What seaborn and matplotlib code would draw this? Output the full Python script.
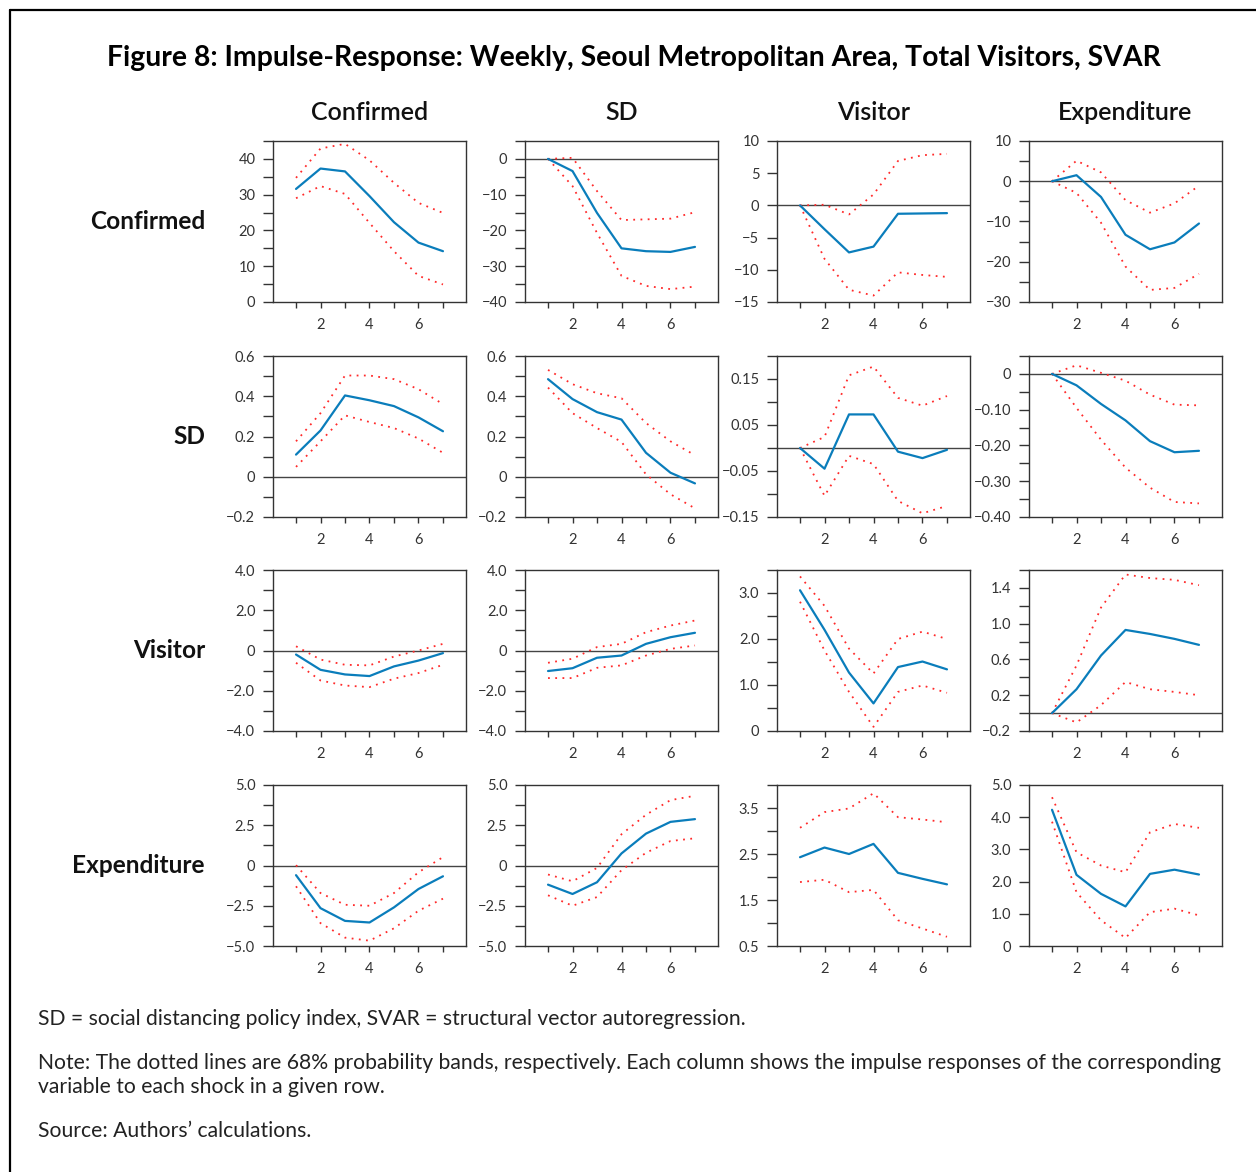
"""
Figure 8 — weekly SVAR impulse responses, Seoul metropolitan area.

Run: python plot.py  -> out.png
"""
import matplotlib.pyplot as plt
from matplotlib.lines import Line2D
import numpy as np
import seaborn as sns

W, H = 1256, 1172
STEPS = [1, 2, 3, 4, 5, 6, 7]
VARIABLES = ["Confirmed", "SD", "Visitor", "Expenditure"]

# rows = shock, columns = response (Confirmed, SD, Visitor, Expenditure)
IRF_CONFIRMED = [
    [31.6, 37.3, 36.5, 29.6, 22.3, 16.6, 14.2],
    [0, -3.4, -15.1, -25.0, -25.8, -26.0, -24.6],
    [0, -3.7, -7.3, -6.4, -1.3, -1.25, -1.2],
    [0, 1.5, -3.9, -13.3, -16.9, -15.2, -10.5],
]
UP_CONFIRMED = [
    [34.7, 42.9, 44.2, 39.6, 33.3, 27.7, 24.9],
    [0, 0.3, -9.0, -17.1, -16.9, -16.7, -14.9],
    [0, 0.1, -1.4, 1.7, 6.9, 7.8, 8.0],
    [0, 5.1, 2.2, -4.7, -7.8, -5.5, -1.1],
]
LO_CONFIRMED = [
    [29.0, 32.4, 30.2, 22.1, 14.2, 7.3, 4.9],
    [0, -7.6, -20.7, -32.7, -35.5, -36.4, -35.7],
    [0, -8.3, -13.1, -14.0, -10.4, -10.8, -11.1],
    [0, -2.9, -10.3, -21.2, -27.0, -26.5, -23.0],
]

IRF_SD = [
    [0.11, 0.23, 0.404, 0.38, 0.351, 0.295, 0.226],
    [0.485, 0.386, 0.321, 0.284, 0.119, 0.02, -0.033],
    [0, -0.045, 0.073, 0.073, -0.008, -0.022, -0.004],
    [0, -0.032, -0.084, -0.130, -0.188, -0.219, -0.215],
]
UP_SD = [
    [0.176, 0.316, 0.503, 0.503, 0.485, 0.435, 0.361],
    [0.531, 0.46, 0.415, 0.39, 0.267, 0.176, 0.107],
    [0, 0.024, 0.158, 0.177, 0.109, 0.092, 0.113],
    [0, 0.024, 0.003, -0.019, -0.058, -0.086, -0.088],
]
LO_SD = [
    [0.049, 0.176, 0.305, 0.272, 0.242, 0.19, 0.119],
    [0.443, 0.316, 0.242, 0.173, 0.012, -0.087, -0.157],
    [0, -0.104, -0.017, -0.035, -0.115, -0.142, -0.126],
    [0, -0.095, -0.184, -0.262, -0.318, -0.358, -0.362],
]

IRF_VISITOR = [
    [-0.2, -0.96, -1.19, -1.27, -0.79, -0.5, -0.13],
    [-1.02, -0.88, -0.36, -0.25, 0.33, 0.66, 0.88],
    [3.06, 2.2, 1.27, 0.6, 1.39, 1.51, 1.34],
    [0, 0.267, 0.644, 0.93, 0.885, 0.83, 0.763],
]
UP_VISITOR = [
    [0.21, -0.45, -0.71, -0.74, -0.3, 0.0, 0.33],
    [-0.61, -0.41, 0.17, 0.33, 0.91, 1.24, 1.49],
    [3.36, 2.72, 1.79, 1.25, 2.0, 2.16, 2.0],
    [0, 0.533, 1.18, 1.55, 1.51, 1.49, 1.43],
]
LO_VISITOR = [
    [-0.61, -1.49, -1.74, -1.82, -1.4, -1.12, -0.71],
    [-1.37, -1.37, -0.86, -0.74, -0.25, 0.08, 0.25],
    [2.81, 1.75, 0.85, 0.09, 0.85, 0.99, 0.83],
    [0, -0.104, 0.089, 0.348, 0.267, 0.237, 0.2],
]

IRF_EXPENDITURE = [
    [-0.6, -2.65, -3.44, -3.54, -2.6, -1.46, -0.67],
    [-1.19, -1.77, -1.04, 0.75, 1.98, 2.71, 2.88],
    [2.43, 2.64, 2.5, 2.72, 2.09, 1.96, 1.84],
    [4.23, 2.21, 1.62, 1.23, 2.24, 2.37, 2.22],
]
UP_EXPENDITURE = [
    [0.02, -1.71, -2.44, -2.5, -1.71, -0.42, 0.52],
    [-0.56, -0.98, -0.15, 1.94, 3.15, 4.06, 4.33],
    [3.07, 3.41, 3.49, 3.82, 3.3, 3.25, 3.19],
    [4.62, 2.91, 2.5, 2.29, 3.53, 3.79, 3.67],
]
LO_EXPENDITURE = [
    [-1.29, -3.58, -4.48, -4.67, -3.9, -2.81, -2.06],
    [-1.85, -2.5, -1.96, -0.29, 0.79, 1.52, 1.69],
    [1.89, 1.94, 1.67, 1.72, 1.06, 0.88, 0.7],
    [3.86, 1.67, 0.8, 0.25, 1.05, 1.16, 0.95],
]

IRF = [IRF_CONFIRMED, IRF_SD, IRF_VISITOR, IRF_EXPENDITURE]
UPPER = [UP_CONFIRMED, UP_SD, UP_VISITOR, UP_EXPENDITURE]
LOWER = [LO_CONFIRMED, LO_SD, LO_VISITOR, LO_EXPENDITURE]

# y axis: (ylim, labelled ticks, tick step, decimals)
Y_AXES = [
    [((0, 45), [0, 10, 20, 30, 40], 5, 0),
     ((-40, 5), [-40, -30, -20, -10, 0], 5, 0),
     ((-15, 10), [-15, -10, -5, 0, 5, 10], 5, 0),
     ((-30, 10), [-30, -20, -10, 0, 10], 5, 0)],
    [((-0.2, 0.6), [-0.2, 0, 0.2, 0.4, 0.6], 0.1, 1),
     ((-0.2, 0.6), [-0.2, 0, 0.2, 0.4, 0.6], 0.1, 1),
     ((-0.15, 0.2), [-0.15, -0.05, 0.05, 0.15], 0.05, 2),
     ((-0.4, 0.05), [-0.4, -0.3, -0.2, -0.1, 0], 0.05, 2)],
    [((-4, 4), [-4, -2, 0, 2, 4], 1, 1),
     ((-4, 4), [-4, -2, 0, 2, 4], 1, 1),
     ((0, 3.5), [0, 1, 2, 3], 0.5, 1),
     ((-0.2, 1.6), [-0.2, 0.2, 0.6, 1.0, 1.4], 0.2, 1)],
    [((-5, 5), [-5, -2.5, 0, 2.5, 5], 1.25, 1),
     ((-5, 5), [-5, -2.5, 0, 2.5, 5], 1.25, 1),
     ((0.5, 4.0), [0.5, 1.5, 2.5, 3.5], 0.5, 1),
     ((0, 5), [0, 1, 2, 3, 4, 5], 1, 1)],
]

TITLE = "Figure 8: Impulse-Response: Weekly, Seoul Metropolitan Area, Total Visitors, SVAR"
NOTES = [
    "SD = social distancing policy index, SVAR = structural vector autoregression.",
    "Note: The dotted lines are 68% probability bands, respectively. Each column shows the impulse responses of the corresponding\nvariable to each shock in a given row.",
    "Source: Authors\u2019 calculations.",
]

BLUE = "#0a7dbb"
RED = "#ff2a2a"
FONT = ["Lato", "DejaVu Sans"]

COL_X = [273, 525, 777, 1029]
ROW_Y = [141, 356, 570, 785]
AX_W, AX_H = 193, 161


def fmt(v, dec):
    if abs(v) < 1e-9:
        return "0"
    return f"{v:.{dec}f}".replace("-", "\u2212")


def draw_panel(ax, r, c):
    (lo, hi), labelled, step, dec = Y_AXES[r][c]
    if lo < 0 < hi:
        ax.axhline(0, color="#444444", lw=1.0, zorder=1)
    sns.lineplot(x=STEPS, y=UPPER[r][c], ax=ax, color=RED, lw=1.3,
                 linestyle=(0, (1, 3)), zorder=2)
    sns.lineplot(x=STEPS, y=LOWER[r][c], ax=ax, color=RED, lw=1.3,
                 linestyle=(0, (1, 3)), zorder=2)
    sns.lineplot(x=STEPS, y=IRF[r][c], ax=ax, color=BLUE, lw=1.6, zorder=3)

    ax.set_xlim(0.06, 7.94)
    ax.set_ylim(lo, hi)
    ticks = np.round(np.arange(lo, hi + step / 2, step), 4)
    labs = [fmt(t, dec) if any(abs(t - l) < 1e-6 for l in labelled) else "" for t in ticks]
    ax.set_yticks(ticks)
    ax.set_yticklabels(labs)
    ax.set_xticks(STEPS)
    ax.set_xticklabels([str(s) if s % 2 == 0 else "" for s in STEPS])
    # seaborn "white" hides ticks, turn them back on
    ax.tick_params(direction="out", width=1, color="#333333", left=True, bottom=True,
                   labelsize=10.5, labelcolor="#333333")
    ax.tick_params(axis="y", length=7.2, pad=5.5)
    ax.tick_params(axis="x", length=4, pad=7.5)
    for sp in ax.spines.values():
        sp.set_visible(True)
        sp.set_color("#333333")
        sp.set_linewidth(1.0)
    ax.set_xlabel("")
    ax.set_ylabel("")
    ax.grid(False)


def main():
    sns.set_theme(style="white")
    plt.rcParams["font.family"] = FONT
    plt.rcParams["axes.unicode_minus"] = True

    fig = plt.figure(figsize=(W / 100, H / 100), dpi=100)

    for r in range(4):
        for c in range(4):
            ax = fig.add_axes([COL_X[c] / W, 1 - (ROW_Y[r] + AX_H) / H, AX_W / W, AX_H / H])
            draw_panel(ax, r, c)

    fig.text(634 / W, 1 - 58 / H, TITLE, ha="center", va="center",
             fontsize=20.4, fontweight="bold", color="black")
    for c, name in enumerate(VARIABLES):
        fig.text((COL_X[c] + AX_W / 2) / W, 1 - 113 / H, name, ha="center", va="center",
                 fontsize=18, fontweight="semibold", color="#111111")
    for r, name in enumerate(VARIABLES):
        fig.text(205 / W, 1 - (ROW_Y[r] + AX_H / 2) / H, name, ha="right", va="center",
                 fontsize=17.6, fontweight="bold", color="#111111")

    note_y = [1019, 1075, 1131]
    for y, txt in zip(note_y, NOTES):
        fig.text(38 / W, 1 - y / H, txt, ha="left", va="center", fontsize=15.2,
                 color="#222222", linespacing=1.25)

    fig.add_artist(Line2D([10 / W, 10 / W], [0, 1 - 10 / H], color="black", lw=1.6))
    fig.add_artist(Line2D([10 / W, 1], [1 - 10 / H, 1 - 10 / H], color="black", lw=1.6))

    fig.savefig("out.png", dpi=100)
    plt.close(fig)


if __name__ == "__main__":
    main()
